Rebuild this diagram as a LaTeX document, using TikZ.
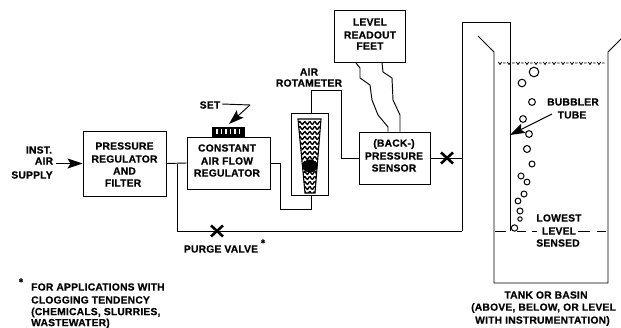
\documentclass[tikz,border=0pt]{standalone}
\usepackage{fontspec}
\setmainfont{Liberation Sans}[LetterSpace=2,BoldFeatures={FakeBold=0.5}]
\usetikzlibrary{arrows.meta}
\tikzset{
  ln/.style={line width=0.95pt,line join=miter},
  boxn/.style={draw,line width=0.95pt,rectangle,inner sep=0pt},
  lab/.style={inner sep=0pt,align=center,font=\fontsize{10.3}{12.6}\selectfont\bfseries},
  arw/.style={ln,-{Stealth[length=15pt,width=10pt,inset=3pt]}},
  bub/.style={draw,circle,line width=1pt,inner sep=0pt},
  xmark/.style={line width=2.6pt},
}
\begin{document}
\begin{tikzpicture}[x=1pt,y=-1pt]
\useasboundingbox (0,0) rectangle (621,328);
% boxes
\node[boxn,minimum width=83pt,minimum height=65pt] (reg) at (124.5,163.5) {};
\node[boxn,minimum width=83pt,minimum height=52pt] (caf) at (228.5,163) {};
\node[boxn,minimum width=37pt,minimum height=82pt] (rot) at (309.5,154) {};
\node[boxn,minimum width=71pt,minimum height=52pt] (lev) at (369.5,36.5) {};
\node[boxn,minimum width=71pt,minimum height=52pt] (bps) at (394.5,158) {};
% box texts
\node[lab] (t1) at (124.5,146) {PRESSURE};
\node[lab] (t2) at (124.5,159) {REGULATOR};
\node[lab] (t3) at (124.5,171) {AND};
\node[lab] (t4) at (123,183) {FILTER};
\node[lab] (t5) at (227,148) {CONSTANT};
\node[lab] (t6) at (227,161) {AIR FLOW};
\node[lab] (t7) at (227,173) {REGULATOR};
\node[lab] (t8) at (370,22) {LEVEL};
\node[lab] (t9) at (370,35) {READOUT};
\node[lab] (t10) at (370,46) {FEET};
\node[lab] (t11) at (394,144) {(BACK-)};
\node[lab] (t12) at (394,156) {PRESSURE};
\node[lab] (t13) at (394,168) {SENSOR};
% free labels
\node[lab] (inst) at (39,150) {INST.};
\node[lab] (air) at (44,161) {AIR};
\node[lab] (sup) at (32,175) {SUPPLY};
\node[lab] (set) at (210,105) {SET};
\node[lab] (ra) at (309,72) {AIR};
\node[lab] (rb) at (309,83) {ROTAMETER};
\node[lab] (pv) at (221,249) {PURGE VALVE};
\node[lab] (st1) at (263,243) {*};
\node[lab] (st2) at (21,282) {*};
\node[lab,anchor=west] (f1) at (31,287) {FOR APPLICATIONS WITH};
\node[lab,anchor=west] (f2) at (31,300) {CLOGGING TENDENCY};
\node[lab,anchor=west] (f3) at (31,312.5) {(CHEMICALS, SLURRIES,};
\node[lab,anchor=west] (f4) at (31,323.5) {WASTEWATER)};
\node[lab] (bb) at (573,102) {BUBBLER};
\node[lab] (tb) at (572,115) {TUBE};
\node[lab] (lo) at (559,218) {LOWEST};
\node[lab] (le) at (559,231) {LEVEL};
\node[lab] (se) at (558,243) {SENSED};
\node[lab] (tk1) at (546,295) {TANK OR BASIN};
\node[lab,anchor=west] (tk2) at (471,308) {(ABOVE, BELOW, OR LEVEL};
\node[lab,anchor=west] (tk3) at (475,321) {WITH INSTRUMENTATION)};
% set pad
\node[draw=black,fill=black,minimum width=32pt,minimum height=10pt,inner sep=0pt] (pad) at (228,132) {};
\foreach \xp in {216,220.5,225,229.5,234,238.5}
  \fill[white] (\xp,129.5) rectangle ++(1.6,5);
% rotameter tube
\begin{scope}
  \clip (298,119) -- (321,119) -- (315,193) -- (305,193) -- cycle;
  \foreach \yy in {123,128,...,193}
    \draw[line width=1.4pt,line join=round] plot[domain=0:27,samples=22,smooth] (296+\x,{\yy+1.6*sin(\x*72)});
\end{scope}
\draw[line width=1.1pt] (298,119) -- (321,119) -- (315,193) -- (305,193) -- cycle;
\fill (310,166) ellipse (7.5 and 6.5);
% coordinates
\coordinate (inA) at (56,163.5);
\coordinate (j1) at (177,164);
\coordinate (p1) at (177,231);
\coordinate (p2) at (462,231);
\coordinate (tt1) at (462,22);
\coordinate (tt2) at (510,22);
\coordinate (tt3) at (510,231);
% connectors
\draw[arw] (inA) -- (reg.west);
\draw[ln] (reg.east) -- (caf.west);
\draw[ln] (caf.east) -- (280,163) -- (280,209) -- (311,209) -- (311,195);
\draw[ln] (311,113) -- (311,90) -- (341,90) -- (341,158) -- (bps.west);
\draw[ln] (j1) -- (p1) -- (p2);
\draw[ln] (bps.east) -- (462,158);
\draw[ln] (p2) -- (tt1) -- (tt2) -- (tt3);
% valves
\draw[xmark] (211,225.5) -- (223,236.5) (223,225.5) -- (211,236.5);
\draw[xmark] (441,152.5) -- (453,163.5) (453,152.5) -- (441,163.5);
% wires
\draw[ln,line join=round] (lev.south -| 356,0) -- (360,68) -- (360,78) -- (370,85) -- (372,100) -- (378,115) -- (388,127) -- (bps.north -| 388,0);
\draw[ln,line join=round] (lev.south -| 382,0) -- (383,72) -- (392,78) -- (393,100) -- (400,115) -- (bps.north -| 400,0);
% set leader
\draw[ln] (222,104) -- (250,105);
\draw[arw] (250,105) -- (229,124);
% tank
\draw[ln] (478,36) -- (494,52) -- (494,283) -- (608,283) -- (608,52) -- (624,36);
% water
\foreach \xw in {500,509,...,601}
  \draw[line width=0.8pt] (\xw-1.7,62) -- (\xw,64.5) -- (\xw+1.7,62) (\xw+3,63) -- (\xw+5.5,63);
% bubbles
\foreach \xb/\yb/\rb [count=\i] in {534/72/4.8,522/83/3.8,532/102/3.4,523/119/3.4,529/134/3.4,527/149/3.5,532/164/3,521/176/3,527/182/2.9,524/194/3,518/201/2.9,520/211/3,520/219/2.2,514.5/228/3.2}
  \node[bub,minimum size=2*\rb pt] (b\i) at (\xb,\yb) {};
% bubbler arrow
\coordinate (ba) at (552,114);
\draw[arw] (ba) -- (510,135);
% level dashes
\draw[ln] (495,231.5) -- (506,231.5) (517,231.5) -- (526,231.5) (532,231.5) -- (537,231.5) (578,231.5) -- (590,231.5) (597,231.5) -- (606,231.5);
\end{tikzpicture}
\end{document}
